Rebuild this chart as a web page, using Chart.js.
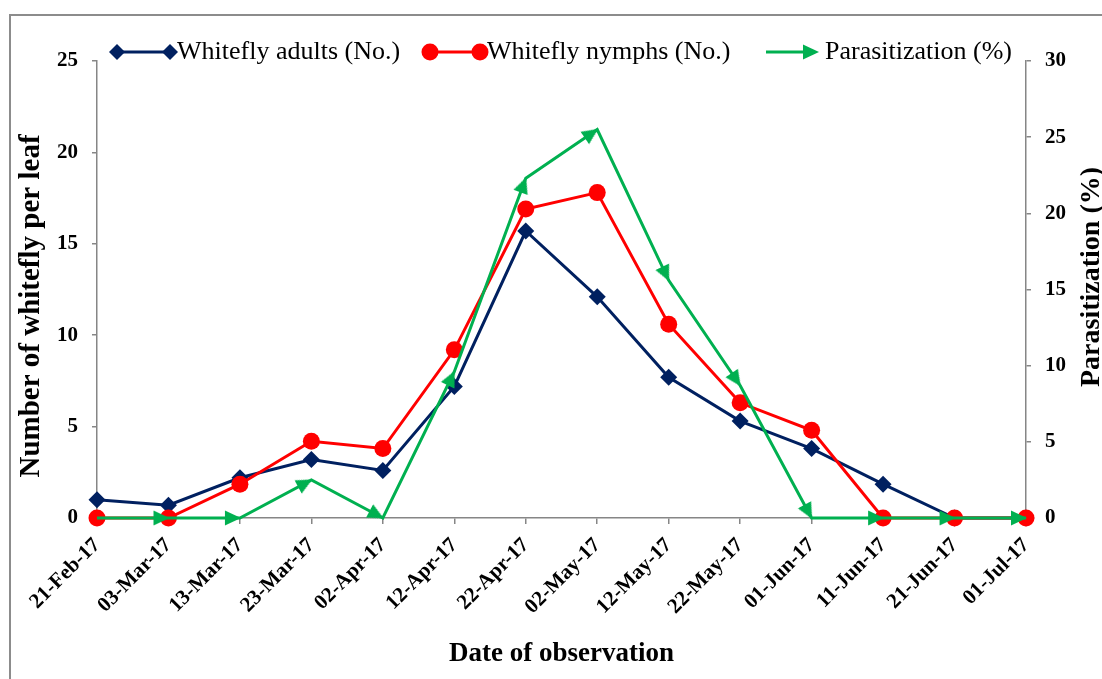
<!DOCTYPE html>
<html>
<head>
<meta charset="utf-8">
<script src="https://cdn.jsdelivr.net/npm/chart.js@4.4.1/dist/chart.umd.min.js"></script>
<style>
  html, body { margin: 0; padding: 0; background: #fff; overflow: hidden; }
  #frame { position: absolute; left: 9px; top: 14px; width: 1200px; height: 800px; border: 2px solid #8c8c8c; box-sizing: border-box; }
  #wrap  { position: absolute; left: 0; top: 0; width: 1102px; height: 679px; }
</style>
</head>
<body>
<div id="frame"></div>
<div id="wrap"><canvas id="chart"></canvas></div>
<script>
// ── Данные ────────────────────────────────────────────
const dates   = ['21-Feb-17', '03-Mar-17', '13-Mar-17', '23-Mar-17', '02-Apr-17', '12-Apr-17', '22-Apr-17',
                 '02-May-17', '12-May-17', '22-May-17', '01-Jun-17', '11-Jun-17', '21-Jun-17', '01-Jul-17']
const adults  = [1.0, 0.7, 2.2, 3.2, 2.6, 7.2, 15.7, 12.1, 7.7, 5.3, 3.8, 1.85, 0, 0]
const nymphs  = [0, 0, 1.85, 4.2, 3.8, 9.2, 16.9, 17.8, 10.6, 6.3, 4.8, 0, 0, 0]
const parasit = [0, 0, 0, 2.5, 0, 9.6, 22.3, 25.5, 15.6, 8.7, 0, 0, 0, 0]
const leftTicks  = { min: 0, max: 25, step: 5 }
const rightTicks = { min: 0, max: 30, step: 5 }

const NAVY = '#002060', RED = '#FF0000', GREEN = '#00B050', AXIS = '#868686'
const FONT = "'Liberation Serif', 'Times New Roman', serif"

/* global Chart */
Chart.defaults.font.family = FONT
Chart.defaults.color = '#000'

// наконечник стрелки: остриё в центре холста, чтобы поворот шёл вокруг точки
function makeArrow(color) {
  const c = document.createElement('canvas')
  c.width = 36; c.height = 36
  const g = c.getContext('2d')
  g.fillStyle = color
  g.beginPath()
  g.moveTo(19, 18); g.lineTo(3, 10.5); g.lineTo(3, 25.5); g.closePath()
  g.fill()
  return c
}
const arrow = makeArrow(GREEN)

function arrowAngle(ctx) {
  const i = ctx.dataIndex
  if (i == null || i === 0) return 0
  const xs = ctx.chart.scales.x, ys = ctx.chart.scales.y1
  const d  = ctx.chart.data.datasets[ctx.datasetIndex].data
  const dx = xs.getPixelForValue(i) - xs.getPixelForValue(i - 1)
  const dy = ys.getPixelForValue(d[i]) - ys.getPixelForValue(d[i - 1])
  return Math.atan2(dy, dx) * 180 / Math.PI
}

// легенда (линия + маркеры) и вертикальные заголовки осей
const overlay = {
  id: 'overlay',
  afterDraw(chart) {
    const ctx = chart.ctx
    const y = 52
    ctx.save()
    ctx.lineWidth = 3

    // Whitefly adults
    ctx.strokeStyle = NAVY; ctx.fillStyle = NAVY
    ctx.beginPath(); ctx.moveTo(117, y); ctx.lineTo(170, y); ctx.stroke()
    ;[117, 170].forEach(x => {
      ctx.beginPath(); ctx.moveTo(x - 8, y); ctx.lineTo(x, y - 8); ctx.lineTo(x + 8, y); ctx.lineTo(x, y + 8); ctx.closePath(); ctx.fill()
    })

    // Whitefly nymphs
    ctx.strokeStyle = RED; ctx.fillStyle = RED
    ctx.beginPath(); ctx.moveTo(430, y); ctx.lineTo(480, y); ctx.stroke()
    ;[430, 480].forEach(x => { ctx.beginPath(); ctx.arc(x, y, 8.5, 0, Math.PI * 2); ctx.fill() })

    // Parasitization
    ctx.strokeStyle = GREEN
    ctx.beginPath(); ctx.moveTo(766, y); ctx.lineTo(806, y); ctx.stroke()
    ctx.drawImage(arrow, 819 - 19, y - 18)

    ctx.fillStyle = '#000'
    ctx.font = `26px ${FONT}`
    ctx.textBaseline = 'middle'
    ctx.fillText('Whitefly adults (No.)', 177, y)
    ctx.fillText('Whitefly nymphs (No.)', 487, y)
    ctx.fillText('Parasitization (%)', 825, y)

    ctx.textAlign = 'center'
    ctx.font = `bold 28px ${FONT}`
    ctx.save()
    ctx.translate(1092, 277)
    ctx.rotate(-Math.PI / 2)
    ctx.fillText('Parasitization (%)', 0, 0)
    ctx.restore()

    ctx.font = `bold 29px ${FONT}`
    ctx.translate(32, 306)
    ctx.rotate(-Math.PI / 2)
    ctx.fillText('Number of whitefly per leaf', 0, 0)
    ctx.restore()
  }
}

const tickFont = { size: 21, weight: 'bold' }
const axisGrid = { display: true, drawOnChartArea: false, drawTicks: true, tickLength: 5, color: AXIS, lineWidth: 1.5 }
const axisBorder = { display: true, color: AXIS, width: 1.5 }

new Chart(document.getElementById('chart'), {
  type: 'line',
  data: {
    labels: dates,
    datasets: [
      {
        label: 'Parasitization (%)',
        data: parasit,
        yAxisID: 'y1',
        order: 0,
        borderColor: GREEN,
        borderWidth: 3,
        pointStyle: arrow,
        pointRotation: arrowAngle,
        pointRadius: ctx => ctx.dataIndex === 0 ? 0 : 8,
        clip: false,
      },
      {
        label: 'Whitefly nymphs (No.)',
        data: nymphs,
        yAxisID: 'y',
        order: 1,
        borderColor: RED,
        backgroundColor: RED,
        borderWidth: 3,
        pointStyle: 'circle',
        pointRadius: 8.5,
        pointBorderWidth: 0,
        clip: false,
      },
      {
        label: 'Whitefly adults (No.)',
        data: adults,
        yAxisID: 'y',
        order: 2,
        borderColor: NAVY,
        backgroundColor: NAVY,
        borderWidth: 3,
        pointStyle: 'rectRot',
        pointRadius: 8.5,
        pointBorderWidth: 0,
        clip: false,
      },
    ]
  },
  options: {
    responsive: true, maintainAspectRatio: false,
    animation: false,
    events: [],
    layout: { padding: { left: 10, top: 61, right: 0, bottom: 0 } },
    plugins: { legend: { display: false }, tooltip: { enabled: false } },
    scales: {
      x: {
        type: 'category',
        offset: false,
        grid: { ...axisGrid, tickLength: 6 },
        border: axisBorder,
        ticks: { font: tickFont, color: '#000', autoSkip: false, minRotation: 45, maxRotation: 45, padding: 9 },
        title: { display: true, text: 'Date of observation', font: { size: 27, weight: 'bold' }, color: '#000', padding: { top: 0, bottom: 9 } },
        afterFit: s => { s.height = 161 },
      },
      y: {
        position: 'left',
        min: leftTicks.min, max: leftTicks.max,
        grid: axisGrid,
        border: axisBorder,
        ticks: { stepSize: leftTicks.step, font: tickFont, color: '#000', padding: 14 },
        afterFit: s => { s.width = 87 },
      },
      y1: {
        position: 'right',
        min: rightTicks.min, max: rightTicks.max,
        grid: axisGrid,
        border: axisBorder,
        ticks: { stepSize: rightTicks.step, font: tickFont, color: '#000', padding: 14 },
        afterFit: s => { s.width = 76 },
      },
    }
  },
  plugins: [overlay]
})
</script>
</body>
</html>
